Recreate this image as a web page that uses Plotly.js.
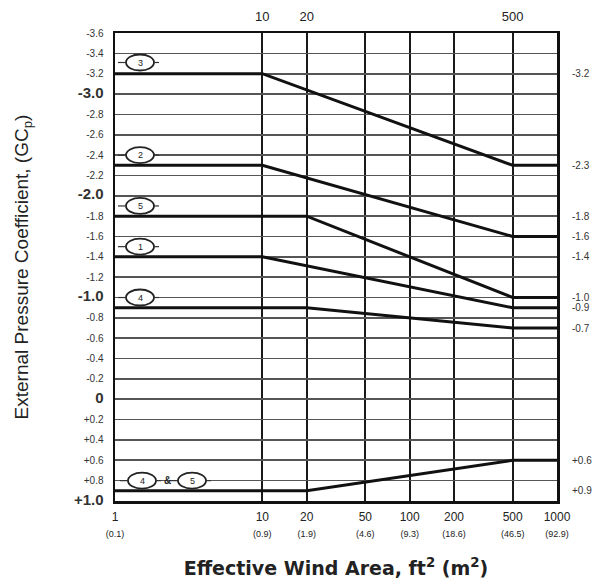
<!DOCTYPE html>
<html>
<head>
<meta charset="utf-8">
<script src="https://cdn.plot.ly/plotly-3.0.1.min.js"></script>
<style>
html,body{margin:0;padding:0;background:#fff;}
#chart{width:607px;height:588px;}
</style>
</head>
<body>
<div id="chart"></div>
<script>
// ---- data ----
const areaBreak10 = [1, 10, 500, 1000];
const areaBreak20 = [1, 20, 500, 1000];
const zone3 = [-3.2, -3.2, -2.3, -2.3];
const zone2 = [-2.3, -2.3, -1.6, -1.6];
const zone5 = [-1.8, -1.8, -1.0, -1.0];
const zone1 = [-1.4, -1.4, -0.9, -0.9];
const zone4 = [-0.9, -0.9, -0.7, -0.7];
const zone45pos = [0.9, 0.9, 0.6, 0.6];

const xTickVals = [1, 10, 20, 50, 100, 200, 500, 1000];
const xTickFt = ['1', '10', '20', '50', '100', '200', '500', '1000'];
const xTickM = ['(0.1)', '(0.9)', '(1.9)', '(4.6)', '(9.3)', '(18.6)', '(46.5)', '(92.9)'];
const topTickVals = [10, 20, 500];
const topTickText = ['10', '20', '500'];

const yTickVals = [-3.6, -3.4, -3.2, -3.0, -2.8, -2.6, -2.4, -2.2, -2.0, -1.8, -1.6, -1.4, -1.2, -1.0,
                   -0.8, -0.6, -0.4, -0.2, 0, 0.2, 0.4, 0.6, 0.8, 1.0];
const yTickText = ['-3.6', '-3.4', '-3.2', '-3.0', '-2.8', '-2.6', '-2.4', '-2.2', '-2.0', '-1.8', '-1.6', '-1.4', '-1.2', '-1.0',
                   '-0.8', '-0.6', '-0.4', '-0.2', '0', '+0.2', '+0.4', '+0.6', '+0.8', '+1.0'];
const yMajor = ['-3.0', '-2.0', '-1.0', '0', '+1.0'];

const rightTickVals = [-3.2, -2.3, -1.8, -1.6, -1.4, -1.0, -0.9, -0.7, 0.6, 0.9];
const rightTickText = ['-3.2', '-2.3', '-1.8', '-1.6', '-1.4', '-1.0', '-0.9', '-0.7', '+0.6', '+0.9'];

// zone label circles: [label, pixel-x, y]
const zoneLabels = [
  ['3', 140, -3.31],
  ['2', 140, -2.40],
  ['5', 140, -1.90],
  ['1', 140, -1.50],
  ['4', 140, -1.00],
  ['4', 142, 0.80],
  ['5', 192, 0.80]
];

// ---- layout helpers ----
const W = 607, H = 588;
const L = 115, R = 50, T = 33, B = 87;
const plotW = W - L - R;
function px2paper(px) { return (px - L) / plotW; }

const FONT = 'Liberation Sans, Arial, sans-serif';

function zoneTrace(x, y) {
  return {x: x, y: y, type: 'scatter', mode: 'lines',
          line: {color: '#111', width: 3}, hoverinfo: 'skip', showlegend: false};
}

const traces = [
  zoneTrace(areaBreak10, zone3),
  zoneTrace(areaBreak10, zone2),
  zoneTrace(areaBreak20, zone5),
  zoneTrace(areaBreak10, zone1),
  zoneTrace(areaBreak20, zone4),
  zoneTrace(areaBreak20, zone45pos),
  {x: [1, 1000], y: [0, 0], xaxis: 'x2', yaxis: 'y2', type: 'scatter', mode: 'lines',
   line: {width: 0, color: 'rgba(0,0,0,0)'}, hoverinfo: 'skip', showlegend: false}
];

const shapes = [];
const annotations = [];
zoneLabels.forEach(([lab, px, yv]) => {
  const xp = px2paper(px);
  shapes.push({type: 'circle', xref: 'paper', yref: 'y', xsizemode: 'pixel', ysizemode: 'pixel',
    xanchor: xp, yanchor: yv, x0: -14, x1: 14, y0: -8, y1: 8,
    line: {color: '#222', width: 1.8}, fillcolor: '#fff', layer: 'above'});
  shapes.push({type: 'line', xref: 'paper', yref: 'y', xsizemode: 'pixel', ysizemode: 'pixel',
    xanchor: xp, yanchor: yv, x0: -22, x1: -14, y0: 0, y1: 0,
    line: {color: '#333', width: 1.2}, layer: 'above'});
  shapes.push({type: 'line', xref: 'paper', yref: 'y', xsizemode: 'pixel', ysizemode: 'pixel',
    xanchor: xp, yanchor: yv, x0: 14, x1: 19, y0: 0, y1: 0,
    line: {color: '#333', width: 1.2}, layer: 'above'});
  annotations.push({xref: 'paper', yref: 'y', x: xp, y: yv, text: lab, showarrow: false,
    font: {family: FONT, size: 9, color: '#222'}, xanchor: 'center', yanchor: 'middle'});
});
annotations.push({xref: 'paper', yref: 'y', x: px2paper(167), y: 0.80, text: '<b>&</b>', showarrow: false,
  font: {family: FONT, size: 10, color: '#222'}, xanchor: 'center', yanchor: 'middle'});

const layout = {
  width: W, height: H,
  margin: {l: L, r: R, t: T, b: B},
  paper_bgcolor: '#fff', plot_bgcolor: '#fff',
  showlegend: false,
  font: {family: FONT, color: '#222'},
  xaxis: {
    type: 'log', range: [0, 3], fixedrange: true,
    tickmode: 'array', tickvals: xTickVals,
    ticktext: xTickFt.map((t, i) => t + '<br><span style="font-size:9px">' + xTickM[i] + '</span>'),
    tickfont: {family: FONT, size: 12, color: '#222'},
    ticks: '', ticklabelstandoff: 3,
    showgrid: true, gridcolor: '#1a1a1a', gridwidth: 2,
    showline: true, mirror: true, linecolor: '#111', linewidth: 2.5,
    zeroline: false,
    title: {text: '<b>Effective Wind Area, ft<sup>2</sup> (m<sup>2</sup>)</b>',
            font: {family: 'DejaVu Sans, Liberation Sans, sans-serif', size: 19, color: '#222'}, standoff: 24}
  },
  yaxis: {
    range: [1.0, -3.6], fixedrange: true,
    tickmode: 'array', tickvals: yTickVals,
    ticktext: yTickText.map(t => yMajor.includes(t) ? '<span style="font-size:15px"><b>' + t + '</b></span>' : t),
    tickfont: {family: FONT, size: 10, color: '#333'},
    ticks: '', ticklabelstandoff: 7,
    showgrid: true, gridcolor: '#555', gridwidth: 1.6,
    showline: true, mirror: true, linecolor: '#111', linewidth: 2.5,
    zeroline: false,
    title: {text: 'External Pressure Coefficient, (GC<sub>p</sub>)',
            font: {family: 'Liberation Sans Narrow, Liberation Sans, Arial, sans-serif', size: 19, color: '#222'}, standoff: 40}
  },
  xaxis2: {
    type: 'log', range: [0, 3], overlaying: 'x', side: 'top', anchor: 'y2', fixedrange: true,
    tickmode: 'array', tickvals: topTickVals, ticktext: topTickText,
    tickfont: {family: FONT, size: 13, color: '#222'},
    ticks: '', ticklabelstandoff: 8, showgrid: false, zeroline: false, showline: false
  },
  yaxis2: {
    range: [1.0, -3.6], overlaying: 'y', side: 'right', anchor: 'x2', fixedrange: true,
    tickmode: 'array', tickvals: rightTickVals, ticktext: rightTickText,
    tickfont: {family: FONT, size: 10, color: '#333'},
    ticks: '', ticklabelstandoff: 14, showgrid: false, zeroline: false, showline: false
  },
  shapes: shapes,
  annotations: annotations
};

Plotly.newPlot('chart', traces, layout, {displayModeBar: false, staticPlot: true});
</script>
</body>
</html>
